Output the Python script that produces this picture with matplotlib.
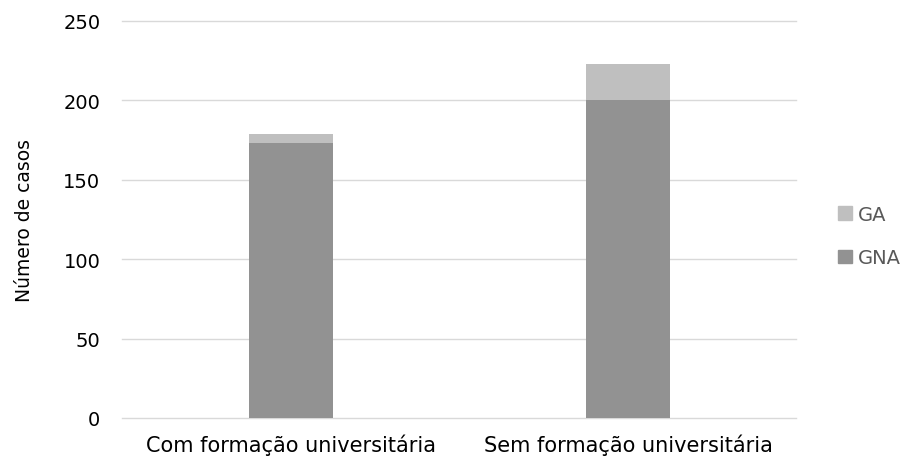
import matplotlib.pyplot as plt
from matplotlib.patches import Patch

categories = ["Com formação universitária", "Sem formação universitária"]
gna = [173, 200]
ga = [6, 23]
yticks = [0, 50, 100, 150, 200, 250]

plt.rcParams["font.family"] = ["DejaVu Sans"]

fig = plt.figure(figsize=(9.06, 4.64), dpi=100)
ax = fig.add_axes([0.1352, 0.097, 0.7439, 0.8556])

x = range(len(categories))
ax.bar(x, gna, width=0.25, color="#929292", zorder=2)
ax.bar(x, ga, width=0.25, bottom=gna, color="#bfbfbf", zorder=2)

ax.set_xlim(-0.5, 1.5)
ax.set_ylim(0, 250)
ax.set_yticks(yticks)
ax.set_xticks(list(x))
ax.set_xticklabels(categories, fontsize=15)
ax.yaxis.grid(True, color="#d9d9d9", linewidth=1.0, zorder=0)
ax.set_axisbelow(True)
# keep the top and bottom grid lines from being clipped at the axes edge
for line in ax.get_ygridlines():
    line.set_clip_on(False)
for s in ax.spines.values():
    s.set_visible(False)
ax.tick_params(axis="both", length=0, colors="#000000")
ax.tick_params(axis="y", pad=16, labelsize=14)
ax.tick_params(axis="x", pad=11)

fig.text(0.027, 0.525, "Número de casos", rotation=90, ha="center", va="center",
         fontsize=13.5, color="#000000")

handles = [Patch(color="#bfbfbf", label="GA"), Patch(color="#929292", label="GNA")]
fig.legend(handles=handles, loc="center left", bbox_to_anchor=(0.925, 0.489),
           frameon=False, fontsize=14, labelcolor="#595959",
           handlelength=0.7, handleheight=0.7, handletextpad=0.3,
           labelspacing=1.25, borderpad=0, borderaxespad=0)

fig.savefig("out.png", dpi=100)
